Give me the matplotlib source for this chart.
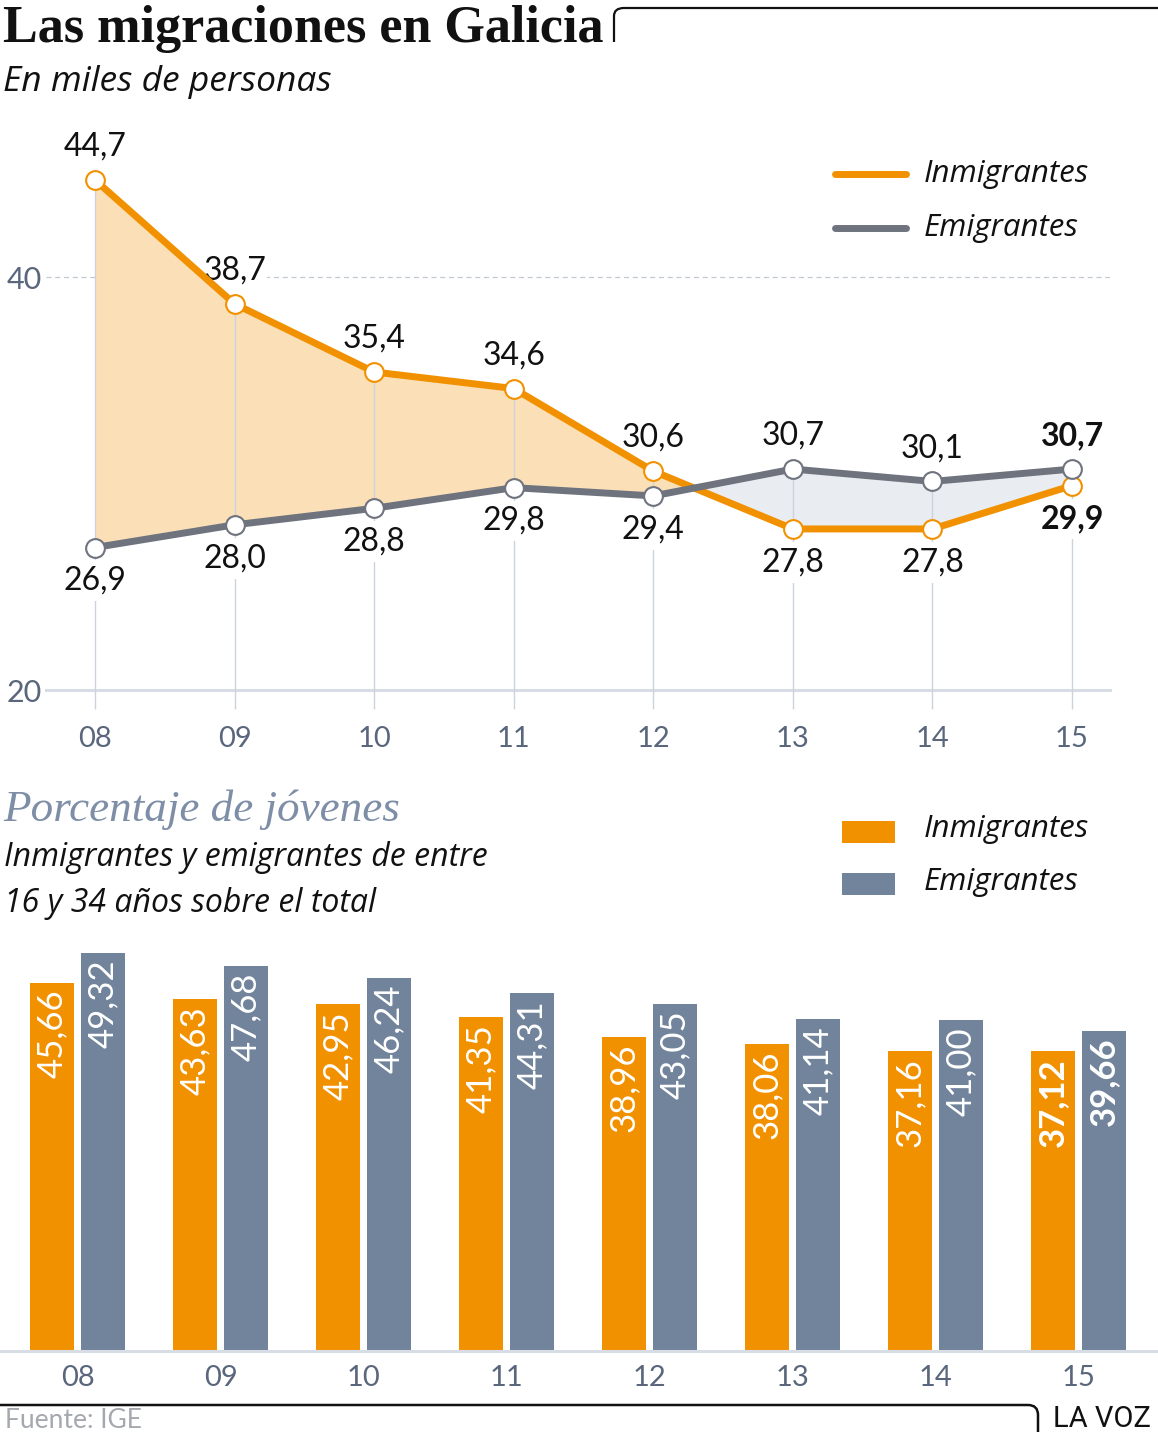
import matplotlib
matplotlib.use('Agg')
import matplotlib.pyplot as plt
from matplotlib.path import Path
from matplotlib.patches import PathPatch, Rectangle
from matplotlib.lines import Line2D
import numpy as np

# ---------------- data ----------------
years = ['08', '09', '10', '11', '12', '13', '14', '15']
inmigrantes = [44.7, 38.7, 35.4, 34.6, 30.6, 27.8, 27.8, 29.9]
emigrantes = [26.9, 28.0, 28.8, 29.8, 29.4, 30.7, 30.1, 30.7]
jov_inmigrantes = [45.66, 43.63, 42.95, 41.35, 38.96, 38.06, 37.16, 37.12]
jov_emigrantes = [49.32, 47.68, 46.24, 44.31, 43.05, 41.14, 41.00, 39.66]
y_ticks = [20, 40]

W, H = 1158, 1438
ORANGE = '#F29100'
GRAY = '#6E737E'
SLATE = '#72849C'
FILL_OR = '#FBDFB7'
FILL_GR = '#E9EDF2'
TICKC = '#5A667C'
SANS = ['Lato', 'DejaVu Sans']
ITAL = ['Open Sans', 'DejaVu Sans']

plt.rcParams['font.family'] = SANS

fig = plt.figure(figsize=(W / 100, H / 100), dpi=100)


def rect(l, t, r, b):
    return [l / W, 1 - b / H, (r - l) / W, (b - t) / H]


# overlay for texts and decorations (pixel coords)
ov = fig.add_axes([0, 0, 1, 1], zorder=0)
ov.set_xlim(0, W)
ov.set_ylim(H, 0)
ov.axis('off')
ov.patch.set_visible(False)

ov.text(3, 42, 'Las migraciones en Galicia', family='Liberation Serif',
        fontweight='bold', fontsize=37.5, va='baseline', ha='left', color='#111111')
ov.text(3, 82, 'En miles de personas', family=ITAL, fontstyle='italic', fontsize=25.5,
        va='center', ha='left', color='#111111')
p = Path([(614, 42), (614, 16), (614, 8), (624, 8), (W + 5, 8)],
         [Path.MOVETO, Path.LINETO, Path.CURVE3, Path.CURVE3, Path.LINETO])
ov.add_patch(PathPatch(p, fc='none', ec='#111111', lw=1.6))

# top legend
ov.add_line(Line2D([835, 906], [174, 174], color=ORANGE, lw=5, solid_capstyle='round'))
ov.add_line(Line2D([835, 906], [228, 228], color=GRAY, lw=5, solid_capstyle='round'))
ov.text(924, 174, 'Inmigrantes', family=ITAL, fontstyle='italic', fontsize=22.5, va='center', ha='left', color='#111111')
ov.text(924, 228, 'Emigrantes', family=ITAL, fontstyle='italic', fontsize=22.5, va='center', ha='left', color='#111111')

# bar section titles
ov.text(3, 810, 'Porcentaje de jóvenes', family='Liberation Serif', fontstyle='italic',
        fontsize=32.5, va='center', ha='left', color='#7D8EA6')
ov.text(4, 858, 'Inmigrantes y emigrantes de entre', family=ITAL, fontstyle='italic', fontsize=23,
        va='center', ha='left', color='#111111')
ov.text(4, 904, '16 y 34 años sobre el total', family=ITAL, fontstyle='italic', fontsize=23,
        va='center', ha='left', color='#111111')
ov.add_patch(Rectangle((842, 821), 53, 22, color=ORANGE, lw=0))
ov.add_patch(Rectangle((842, 873), 53, 22, color=SLATE, lw=0))
ov.text(924, 829, 'Inmigrantes', family=ITAL, fontstyle='italic', fontsize=22.5, va='center', ha='left', color='#111111')
ov.text(924, 882, 'Emigrantes', family=ITAL, fontstyle='italic', fontsize=22.5, va='center', ha='left', color='#111111')

# footer
p2 = Path([(0, 1405), (1028, 1405), (1038, 1405), (1038, 1415), (1038, 1432)],
          [Path.MOVETO, Path.LINETO, Path.CURVE3, Path.CURVE3, Path.LINETO])
ov.add_patch(PathPatch(p2, fc='none', ec='#111111', lw=1.8))
ov.text(5, 1421, 'Fuente: IGE', fontsize=19, va='center', ha='left', color='#A5A8AE')
ov.text(1151, 1419, 'LA VOZ', family='Roboto', fontsize=21, va='center', ha='right', color='#111111')

# ---------------- line chart ----------------
x = np.arange(len(years))
inm = np.array(inmigrantes)
emi = np.array(emigrantes)

ax = fig.add_axes(rect(46, 130, 1110, 690), zorder=1)
ax.patch.set_visible(False)
ax.set_xlim(-0.351, 7.272)
ax.set_ylim(20, 47.12)
for s in ax.spines.values():
    s.set_visible(False)

ax.axhline(40, color='#C3C9D3', lw=0.9, ls=(0, (4, 3)), zorder=0.5)
ax.axhline(20, color='#D8DDE5', lw=2.2, zorder=0.5, clip_on=False)

ax.fill_between(x, inm, emi, where=inm >= emi, interpolate=True, color=FILL_OR, lw=0, zorder=0.55)
ax.fill_between(x, inm, emi, where=inm <= emi, interpolate=True, color=FILL_GR, lw=0, zorder=0.55)
ax.vlines(x, 19.1, np.maximum(inm, emi), color='#CDD3DC', lw=1.0, zorder=0.6, clip_on=False)

ax.plot(x, inm, color=ORANGE, lw=5, marker='o', ms=13.5, mfc='white', mec=ORANGE, mew=1.5,
        zorder=3, clip_on=False, solid_joinstyle='round')
ax.plot(x, emi, color=GRAY, lw=5, marker='o', ms=13.5, mfc='white', mec=GRAY, mew=1.5,
        zorder=4, clip_on=False, solid_joinstyle='round')


def fmt(v, d=1):
    return f'{v:.{d}f}'.replace('.', ',')


for i in range(len(x)):
    last = i == len(x) - 1
    fw = 'bold' if last else 'normal'
    hi, lo = (inm[i], emi[i]) if inm[i] >= emi[i] else (emi[i], inm[i])
    ax.annotate(fmt(hi), (x[i], hi), xytext=(0, 24), textcoords='offset points',
                ha='center', va='center', fontsize=23, fontweight=fw, color='#111111',
                zorder=0.52, bbox=dict(fc='white', ec='none', pad=1))
    ax.annotate(fmt(lo), (x[i], lo), xytext=(0, -24), textcoords='offset points',
                ha='center', va='center', fontsize=23, fontweight=fw, color='#111111',
                zorder=0.8, bbox=dict(fc='white', ec='none', pad=4))

ax.set_yticks(y_ticks)
ax.set_yticklabels([str(t) for t in y_ticks])
ax.set_xticks(x)
ax.set_xticklabels(years)
ax.tick_params(axis='y', length=0, pad=3, labelsize=22, labelcolor=TICKC)
ax.tick_params(axis='x', length=0, pad=26, labelsize=21, labelcolor=TICKC)

# ---------------- bar chart ----------------
bx = fig.add_axes(rect(0, 940, W, 1351), zorder=1)
bx.patch.set_visible(False)
bx.set_xlim(-0.542, 7.556)
bx.set_ylim(0, 50.93)
for s in bx.spines.values():
    s.set_visible(False)
off, bw = 0.178, 0.308
bx.bar(x - off, jov_inmigrantes, width=bw, color=ORANGE, lw=0)
bx.bar(x + off, jov_emigrantes, width=bw, color=SLATE, lw=0)
bx.axhline(0, color='#D8DDE5', lw=2.2, clip_on=False, zorder=3)
for i in range(len(x)):
    fw = 'bold' if i == len(x) - 1 else 'normal'
    for xo, v in ((x[i] - off, jov_inmigrantes[i]), (x[i] + off, jov_emigrantes[i])):
        bx.text(xo, v - 0.85, fmt(v, 2), rotation=90, ha='center', va='top',
                fontsize=25, fontweight=fw, color='white')
bx.set_yticks([])
bx.set_xticks(x)
bx.set_xticklabels(years)
bx.tick_params(axis='x', length=0, pad=10, labelsize=21, labelcolor=TICKC)

fig.savefig('out.png', dpi=100)
